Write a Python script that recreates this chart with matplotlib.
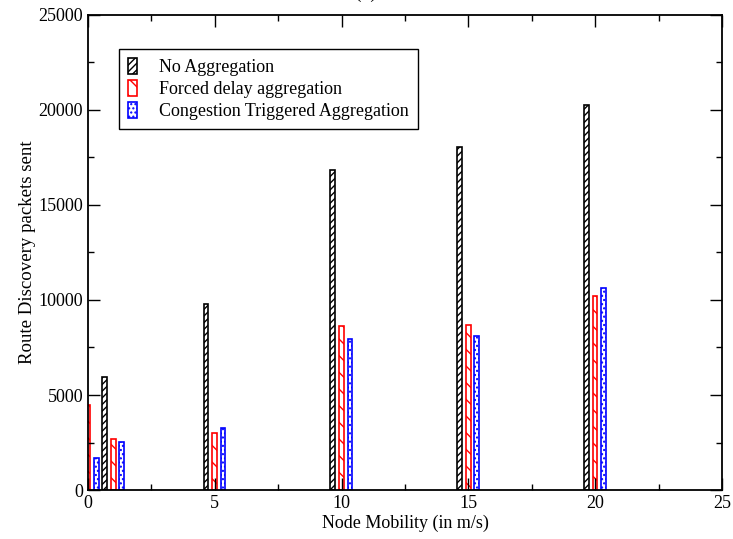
import numpy as np
import matplotlib
matplotlib.use("Agg")
import matplotlib.pyplot as plt
from matplotlib.ticker import MultipleLocator

plt.rcParams['font.family'] = ['Liberation Serif', 'DejaVu Serif']
plt.rcParams['hatch.linewidth'] = 1.0

mobility = [0, 1, 5, 10, 15, 20]
no_agg = [np.nan, 5950, 9800, 16850, 18050, 20250]
forced = [4450, 2680, 3000, 8630, 8680, 10210]
congestion = [1680, 2530, 3250, 7930, 8100, 10630]

labels = ["No Aggregation", "Forced delay aggregation", "Congestion Triggered Aggregation"]
colors = ["black", "red", "blue"]
hatches = ["/////", r"\\", "...."]
offsets = [-0.35, 0.0, 0.33]
width = 0.18

fig = plt.figure(figsize=(7.33, 5.39), dpi=100)
ax = fig.add_axes([0.12, 0.0909, 0.865, 0.8813])

x = np.array(mobility, dtype=float)
for vals, lab, col, h, off in zip([no_agg, forced, congestion], labels, colors, hatches, offsets):
    ax.bar(x + off, vals, width=width, facecolor="white", edgecolor=col,
           hatch=h, linewidth=1.2, label=lab)

ax.set_xlim(0, 25)
ax.set_ylim(0, 25000)
ax.xaxis.set_major_locator(MultipleLocator(5))
ax.xaxis.set_minor_locator(MultipleLocator(2.5))
ax.yaxis.set_major_locator(MultipleLocator(5000))
ax.yaxis.set_minor_locator(MultipleLocator(2500))
ax.tick_params(which="both", direction="in", top=True, right=True, labelsize=13, width=1.0)
ax.tick_params(which="major", length=8.6)
ax.tick_params(which="minor", length=4.3)
for s in ax.spines.values():
    s.set_linewidth(1.3)

ax.set_xlabel("Node Mobility (in m/s)", fontsize=13, labelpad=2)
ax.set_ylabel("Route Discovery packets sent", fontsize=13.6, labelpad=2)

leg = ax.legend(loc="upper left", bbox_to_anchor=(0.049, 0.928), borderaxespad=0,
                fontsize=13, handlelength=0.5, handleheight=1.0, handletextpad=1.2,
                labelspacing=0.2, fancybox=False, framealpha=1, edgecolor="black",
                borderpad=0.5)
leg.get_frame().set_linewidth(1.0)

fig.text(366 / 733, 1 + 2 / 539, "(b)", fontsize=14, ha="center", va="baseline")

fig.savefig("out.png", dpi=100)
